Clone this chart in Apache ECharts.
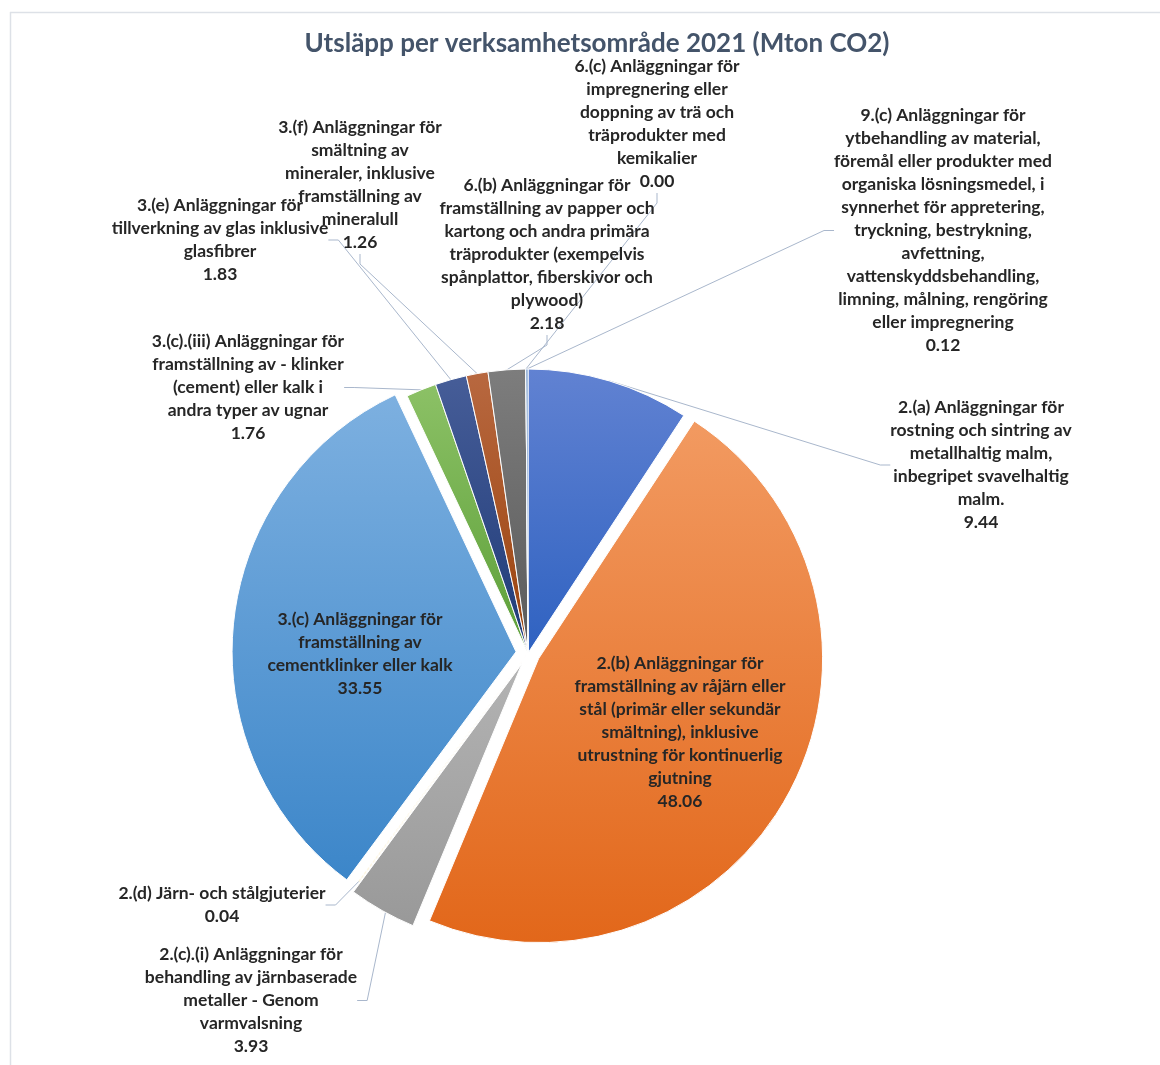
<!DOCTYPE html>
<html>
<head>
<meta charset="utf-8">
<script src="https://cdn.jsdelivr.net/npm/echarts@6/dist/echarts.min.js"></script>
<style>
  html, body { margin: 0; padding: 0; background: #ffffff; }
  #chart { width: 1160px; height: 1065px; }
</style>
</head>
<body>
<div id="chart"></div>
<script>
// Emission categories (wrapped as they appear on the labels), clockwise from 12 o'clock
const categories = [
  '2.(a) Anläggningar för\nrostning och sintring av\nmetallhaltig malm,\ninbegripet svavelhaltig\nmalm.',
  '2.(b) Anläggningar för\nframställning av råjärn eller\nstål (primär eller sekundär\nsmältning), inklusive\nutrustning för kontinuerlig\ngjutning',
  '2.(c).(i) Anläggningar för\nbehandling av järnbaserade\nmetaller - Genom\nvarmvalsning',
  '2.(d) Järn- och stålgjuterier',
  '3.(c) Anläggningar för\nframställning av\ncementklinker eller kalk',
  '3.(c).(iii) Anläggningar för\nframställning av - klinker\n(cement) eller kalk i\nandra typer av ugnar',
  '3.(e) Anläggningar för\ntillverkning av glas inklusive\nglasfibrer',
  '3.(f) Anläggningar för\nsmältning av\nmineraler, inklusive\nframställning av\nmineralull',
  '6.(b) Anläggningar för\nframställning av papper och\nkartong och andra primära\nträprodukter (exempelvis\nspånplattor, fiberskivor och\nplywood)',
  '6.(c) Anläggningar för\nimpregnering eller\ndoppning av trä och\nträprodukter med\nkemikalier',
  '9.(c) Anläggningar för\nytbehandling av material,\nföremål eller produkter med\norganiska lösningsmedel, i\nsynnerhet för appretering,\ntryckning, bestrykning,\navfettning,\nvattenskyddsbehandling,\nlimning, målning, rengöring\neller impregnering'
];

// Emissions 2021, Mton CO2
const emissions = [9.44, 48.06, 3.93, 0.04, 33.55, 1.76, 1.83, 1.26, 2.18, 0.00, 0.12];

// Slices pulled out from the centre
const pulledOut = [false, true, true, false, true, false, false, false, false, false, false];

// Labels drawn inside their slice (no leader line)
const insideLabel = [false, true, false, false, true, false, false, false, false, false, false];

// Slice fills: [top colour, bottom colour] of a vertical gradient
const fills = [
  ['#6182d2', '#2f62c1'],
  ['#f29a61', '#e2671a'],
  ['#b3b3b3', '#999999'],
  ['#ffd24d', '#f2b400'],
  ['#7db0e0', '#3c86c9'],
  ['#8cc166', '#5c9f38'],
  ['#465d98', '#1f3b78'],
  ['#b86840', '#9a420c'],
  ['#7d7d7d', '#5a5a5a'],
  ['#a8841a', '#8d6a00'],
  ['#5a87c2', '#2f69a8']
];

// Label anchor points: [centre x, top y]
const labelAnchors = [
  [981, 396], [680, 652], [251, 943], [222, 882], [360, 608], [248, 330],
  [220, 194], [360, 116], [547, 174], [657, 55], [943, 104]
];

const pieCenter = [528, 653];
const pieRadius = 284;
const labelFont = {
  fontFamily: 'Lato',
  fontWeight: 'bold',
  fontSize: 17.5,
  lineHeight: 23,
  color: '#262626'
};

const chart = echarts.init(document.getElementById('chart'), null, { renderer: 'canvas' });

// Visible slices (with the pulled-out ones offset)
const sliceData = emissions.map(function (v, i) {
  return {
    name: categories[i],
    value: v,
    selected: pulledOut[i],
    itemStyle: {
      color: new echarts.graphic.LinearGradient(0, 0, 0, 1, [
        { offset: 0, color: fills[i][0] },
        { offset: 1, color: fills[i][1] }
      ])
    }
  };
});

// Same values again, unfilled, carrying the data labels and leader lines
const labelData = emissions.map(function (v, i) {
  return {
    name: categories[i],
    value: v,
    labelLine: { show: !insideLabel[i] }
  };
});

const option = {
  animation: false,
  backgroundColor: '#ffffff',
  title: {
    text: 'Utsläpp per verksamhetsområde 2021 (Mton CO2)',
    left: 592,
    top: 26,
    textAlign: 'center',
    textStyle: {
      fontFamily: 'Lato',
      fontWeight: 'bold',
      fontSize: 26,
      color: '#44546a'
    }
  },
  graphic: [
    { type: 'line', shape: { x1: 10, y1: 12.5, x2: 1160, y2: 12.5 }, style: { stroke: '#dde1e7', lineWidth: 1.5 } },
    { type: 'line', shape: { x1: 10.5, y1: 12, x2: 10.5, y2: 1065 }, style: { stroke: '#dde1e7', lineWidth: 1.5 } }
  ],
  series: [
    {
      type: 'pie',
      name: 'slices',
      center: pieCenter,
      radius: [0, pieRadius],
      startAngle: 90,
      clockwise: true,
      selectedMode: 'multiple',
      selectedOffset: 12,
      avoidLabelOverlap: false,
      itemStyle: { borderColor: '#ffffff', borderWidth: 1 },
      emphasis: { disabled: true },
      label: { show: false },
      labelLine: { show: false },
      data: sliceData
    },
    {
      type: 'pie',
      name: 'labels',
      center: pieCenter,
      radius: [0, pieRadius],
      startAngle: 90,
      clockwise: true,
      silent: true,
      avoidLabelOverlap: false,
      itemStyle: { color: 'rgba(0,0,0,0)', borderWidth: 0 },
      emphasis: { disabled: true },
      label: Object.assign({
        show: true,
        position: 'outside',
        overflow: 'none',
        align: 'center',
        formatter: function (p) {
          return p.name + '\n' + p.value.toFixed(2);
        }
      }, labelFont),
      labelLine: {
        show: true,
        length: 10,
        length2: 10,
        smooth: false,
        lineStyle: { color: '#a9b7cc', width: 1 }
      },
      labelLayout: function (params) {
        const a = labelAnchors[params.dataIndex];
        return { x: a[0], y: a[1], align: 'center', verticalAlign: 'top' };
      },
      data: labelData
    }
  ]
};

chart.setOption(option);
</script>
</body>
</html>
